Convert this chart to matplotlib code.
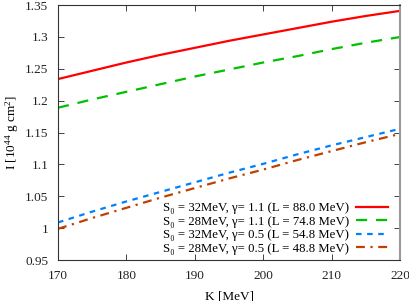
import matplotlib
matplotlib.use("Agg")
import matplotlib.pyplot as plt
from matplotlib.ticker import FuncFormatter, MultipleLocator

K = [170, 175, 180, 185, 190, 195, 200, 205, 210, 215, 220]
I_s32_g11 = [1.234, 1.247, 1.260, 1.272, 1.283, 1.294, 1.304, 1.314, 1.324, 1.333, 1.341]
I_s28_g11 = [1.189, 1.202, 1.214, 1.226, 1.238, 1.249, 1.260, 1.270, 1.281, 1.291, 1.300]
I_s32_g05 = [1.009, 1.026, 1.042, 1.057, 1.072, 1.087, 1.101, 1.116, 1.130, 1.143, 1.156]
I_s28_g05 = [0.999, 1.016, 1.032, 1.048, 1.063, 1.078, 1.092, 1.107, 1.121, 1.135, 1.148]
labels = [
    "S₀ = 32MeV, γ= 1.1 (L = 88.0 MeV)",
    "S₀ = 28MeV, γ= 1.1 (L = 74.8 MeV)",
    "S₀ = 32MeV, γ= 0.5 (L = 54.8 MeV)",
    "S₀ = 28MeV, γ= 0.5 (L = 48.8 MeV)",
]

plt.rcParams['font.family'] = ['Liberation Serif', 'DejaVu Serif']
plt.rcParams['mathtext.fontset'] = 'custom'
plt.rcParams['mathtext.rm'] = 'Liberation Serif'
plt.rcParams['mathtext.it'] = 'Liberation Serif:italic'

fig = plt.figure(figsize=(4.10, 3.01), dpi=100)
ax = fig.add_axes([0.1415, 0.136, 0.8345, 0.847])

ax.plot(K, I_s32_g11, color='#ff0000', lw=1.6, ls='-', label=labels[0])
ax.plot(K, I_s28_g11, color='#00c000', lw=1.6, ls=(0, (5, 4)), label=labels[1])
ax.plot(K, I_s32_g05, color='#0080ff', lw=1.6, ls=(0, (2.5, 2.5)), label=labels[2])
ax.plot(K, I_s28_g05, color='#c04000', lw=1.6, ls=(0, (4, 2.5, 1, 2.5)), label=labels[3])

ax.set_xlim(170, 220)
ax.set_ylim(0.95, 1.35)
ax.xaxis.set_major_locator(MultipleLocator(10))
ax.yaxis.set_major_locator(MultipleLocator(0.05))
ax.yaxis.set_major_formatter(FuncFormatter(lambda v, p: "%g" % round(v, 2)))
ax.tick_params(direction='in', top=True, right=True, length=4, width=0.6,
               labelsize=9.5, colors='#222222', pad=7)
for s in ax.spines.values():
    s.set_linewidth(0.8)
    s.set_color('#333333')
ax.spines['right'].set_color('#999999')
ax.spines['right'].set_linewidth(1.5)

ax.set_xlabel("K [MeV]", fontsize=9.5, labelpad=6)
ax.set_ylabel(r"I [10$^{44}$ g cm$^2$]", fontsize=9.5, labelpad=3)

leg = ax.legend(loc='lower right', frameon=False, markerfirst=False, fontsize=9.2,
                handlelength=2.5, handletextpad=0.55, labelspacing=0.12,
                borderaxespad=0.0, borderpad=0.0, bbox_to_anchor=(0.965, 0.02))

fig.savefig("out.png", dpi=100)
